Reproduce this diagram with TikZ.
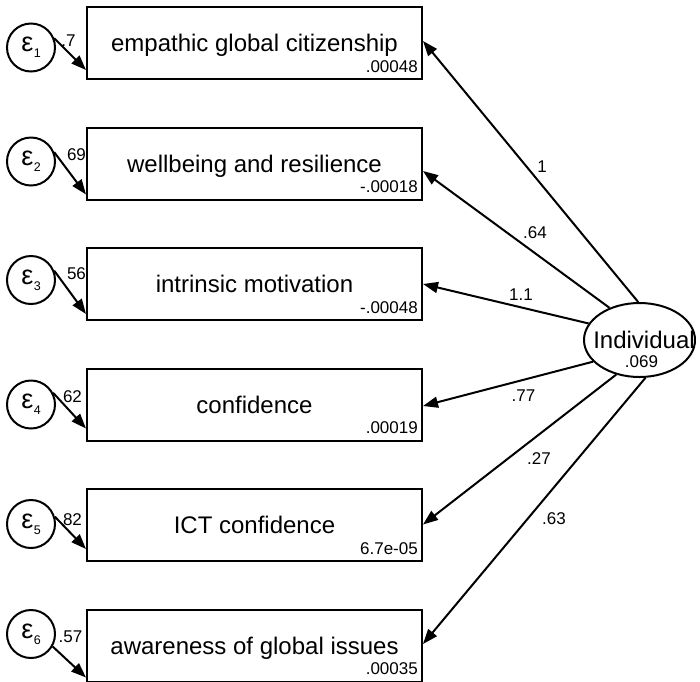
\documentclass[tikz,border=0pt]{standalone}
\usepackage{fontspec}
\setmainfont{Liberation Sans}
\usetikzlibrary{arrows.meta,shapes.geometric}
\newcommand\epsub[1]{{\fontsize{27}{28}\selectfont ε}\kern0.5pt\raisebox{-6pt}{\fontsize{12.5}{12.5}\selectfont #1}}
\begin{document}
\begin{tikzpicture}[x=1pt,y=-1pt,
  obs/.style={draw, line width=2pt, rectangle, minimum width=335pt, minimum height=72pt, inner sep=0pt, anchor=north west, font=\fontsize{24}{28}\selectfont, text height=17.2pt, text depth=0pt},
  err/.style={draw, circle, line width=2pt, minimum size=48pt, inner sep=0pt},
  lat/.style={draw, ellipse, line width=2pt, minimum width=111pt, minimum height=74pt, inner sep=0pt},
  num/.style={font=\fontsize{17}{20}\selectfont, inner sep=0pt},
  conn/.style={line width=2pt, -{Triangle[length=15pt,width=11pt]}}]
\clip (0,0) rectangle (700,681);
% observed variables
\node[obs] (b1) at (86,6) {empathic global citizenship};
\node[obs] (b2) at (86,126.5) {wellbeing and resilience};
\node[obs] (b3) at (86,247) {intrinsic motivation};
\node[obs] (b4) at (86,367.5) {confidence};
\node[obs] (b5) at (86,488) {ICT confidence};
\node[obs] (b6) at (86,608.5) {awareness of global issues};
% intercepts
\node[num, anchor=base east] (v1) at ([xshift=-5pt,yshift=8pt]b1.south east) {.00048};
\node[num, anchor=base east] (v2) at ([xshift=-5pt,yshift=8pt]b2.south east) {-.00018};
\node[num, anchor=base east] (v3) at ([xshift=-5pt,yshift=8pt]b3.south east) {-.00048};
\node[num, anchor=base east] (v4) at ([xshift=-5pt,yshift=8pt]b4.south east) {.00019};
\node[num, anchor=base east] (v5) at ([xshift=-5pt,yshift=8pt]b5.south east) {6.7e-05};
\node[num, anchor=base east] (v6) at ([xshift=-5pt,yshift=8pt]b6.south east) {.00035};
% errors
\node[err] (e1) at (31,47.5) {\epsub{1}};
\node[err] (e2) at (31,161.5) {\epsub{2}};
\node[err] (e3) at (31,280) {\epsub{3}};
\node[err] (e4) at (31,404.5) {\epsub{4}};
\node[err] (e5) at (31,524) {\epsub{5}};
\node[err] (e6) at (31,634) {\epsub{6}};
\draw[conn] (e1.22) -- ([yshift=10pt]b1.south west);
\draw[conn] (e2.22) -- ([yshift=6pt]b2.south west);
\draw[conn] (e3.22) -- ([yshift=7pt]b3.south west);
\draw[conn] (e4.28) -- ([yshift=13pt]b4.south west);
\draw[conn] (e5.17) -- ([yshift=13pt]b5.south west);
\draw[conn] (e6.-30) -- ([yshift=5pt]b6.south west);
\node[num] (l1) at (68.5,40.5) {.7};
\node[num] (l2) at (76.5,154.5) {69};
\node[num] (l3) at (76.5,274) {56};
\node[num] (l4) at (72.5,396.5) {62};
\node[num] (l5) at (72.5,520) {82};
\node[num] (l6) at (70.5,637) {.57};
% latent
\node[lat] (I) at (639.5,340) {};
\node[font=\fontsize{24}{28}\selectfont, anchor=base, inner sep=0pt] (It) at (644,348.3) {Individual};
\node[num, anchor=base] (Iv) at (641.5,367) {.069};
\draw[conn] (I.92) -- ([yshift=2pt]b1.east);
\draw[conn] (I.133) -- ([yshift=-7.5pt]b2.east);
\draw[conn] (I.162) -- (b3.east);
\draw[conn] (I.205) -- ([yshift=-1.5pt]b4.east);
\draw[conn] (I.236) -- ([yshift=0.5pt]b5.east);
\draw[conn] (I.279) -- ([yshift=1.5pt]b6.east);
\node[num] (p1) at (542,167) {1};
\node[num] (p2) at (535,233) {.64};
\node[num] (p3) at (521,295) {1.1};
\node[num] (p4) at (523.5,396) {.77};
\node[num] (p5) at (539,458.5) {.27};
\node[num] (p6) at (554,518.5) {.63};
\end{tikzpicture}
\end{document}
